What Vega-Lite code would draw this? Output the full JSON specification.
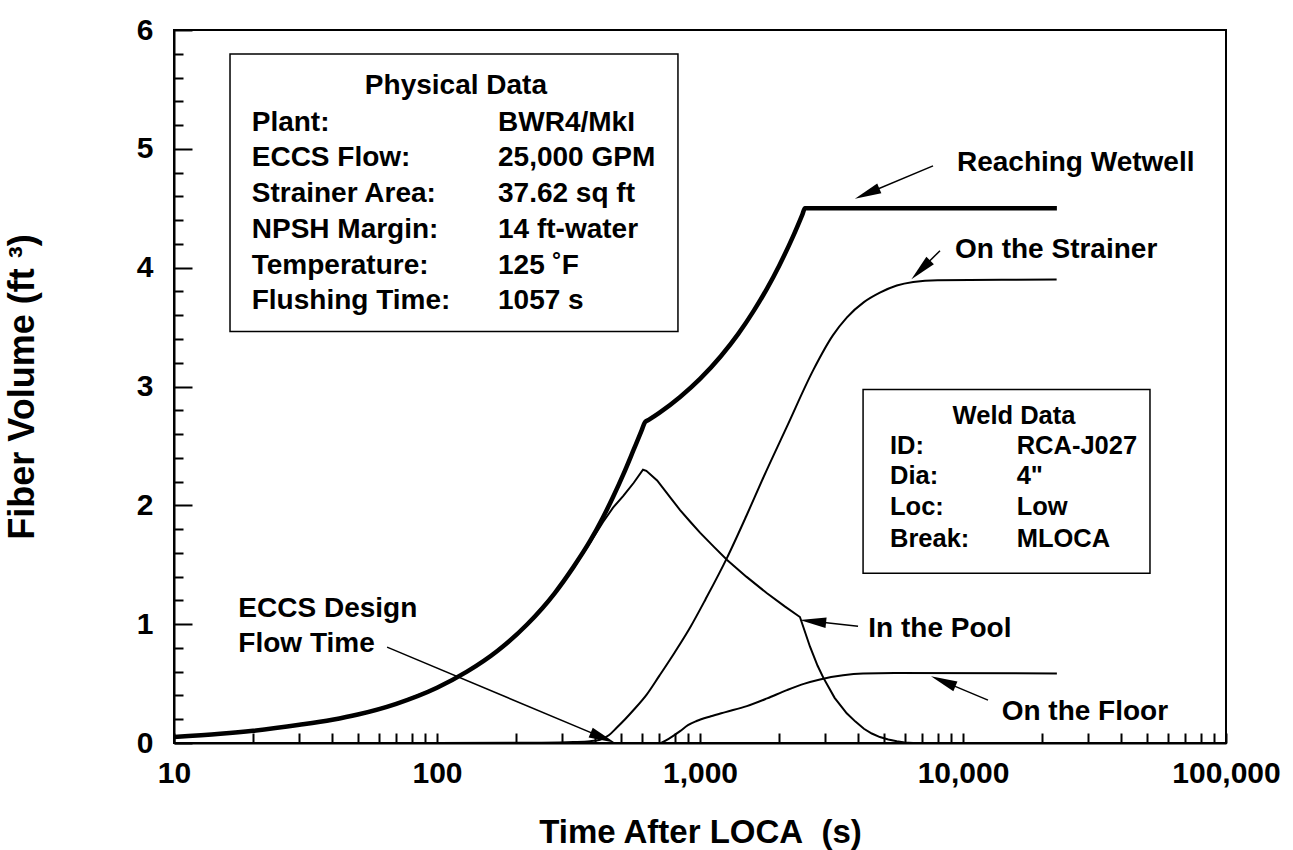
{
  "$schema": "https://vega.github.io/schema/vega-lite/v6.json",
  "width": 1052,
  "height": 713,
  "autosize": {"type": "none"},
  "padding": {"left": 174, "top": 30, "right": 67, "bottom": 107},
  "background": "white",
  "config": {
    "font": "Liberation Sans",
    "view": {"stroke": "black", "strokeWidth": 2},
    "axis": {
      "domainColor": "black", "domainWidth": 2,
      "tickColor": "black", "tickWidth": 2,
      "labelColor": "black", "titleColor": "black",
      "labelFont": "Liberation Sans", "titleFont": "Liberation Sans",
      "labelFontWeight": "bold", "titleFontWeight": "bold",
      "labelFontSize": 30, "titleFontSize": 33, "grid": false,
      "labelOverlap": false, "labelFlush": false, "labelBound": false
    }
  },
  "datasets": {
    "curves": [
      {"s": "Reaching Wetwell", "x": 10, "y": 0.05},
      {"s": "Reaching Wetwell", "x": 15, "y": 0.077},
      {"s": "Reaching Wetwell", "x": 20, "y": 0.103},
      {"s": "Reaching Wetwell", "x": 30, "y": 0.153},
      {"s": "Reaching Wetwell", "x": 40, "y": 0.196},
      {"s": "Reaching Wetwell", "x": 50, "y": 0.24},
      {"s": "Reaching Wetwell", "x": 70, "y": 0.33},
      {"s": "Reaching Wetwell", "x": 100, "y": 0.465},
      {"s": "Reaching Wetwell", "x": 130, "y": 0.60},
      {"s": "Reaching Wetwell", "x": 170, "y": 0.776},
      {"s": "Reaching Wetwell", "x": 220, "y": 0.997},
      {"s": "Reaching Wetwell", "x": 280, "y": 1.26},
      {"s": "Reaching Wetwell", "x": 330, "y": 1.48},
      {"s": "Reaching Wetwell", "x": 382, "y": 1.70},
      {"s": "Reaching Wetwell", "x": 428, "y": 1.90},
      {"s": "Reaching Wetwell", "x": 467, "y": 2.07},
      {"s": "Reaching Wetwell", "x": 511, "y": 2.26},
      {"s": "Reaching Wetwell", "x": 560, "y": 2.47},
      {"s": "Reaching Wetwell", "x": 600, "y": 2.63},
      {"s": "Reaching Wetwell", "x": 618, "y": 2.70},
      {"s": "Reaching Wetwell", "x": 640, "y": 2.721},
      {"s": "Reaching Wetwell", "x": 700, "y": 2.778},
      {"s": "Reaching Wetwell", "x": 840, "y": 2.912},
      {"s": "Reaching Wetwell", "x": 1000, "y": 3.064},
      {"s": "Reaching Wetwell", "x": 1200, "y": 3.255},
      {"s": "Reaching Wetwell", "x": 1400, "y": 3.445},
      {"s": "Reaching Wetwell", "x": 1600, "y": 3.636},
      {"s": "Reaching Wetwell", "x": 1800, "y": 3.826},
      {"s": "Reaching Wetwell", "x": 2000, "y": 4.017},
      {"s": "Reaching Wetwell", "x": 2250, "y": 4.255},
      {"s": "Reaching Wetwell", "x": 2450, "y": 4.447},
      {"s": "Reaching Wetwell", "x": 2506, "y": 4.50},
      {"s": "Reaching Wetwell", "x": 2560, "y": 4.50},
      {"s": "Reaching Wetwell", "x": 22750, "y": 4.50},

      {"s": "On the Strainer", "x": 100, "y": 0},
      {"s": "On the Strainer", "x": 250, "y": 0.003},
      {"s": "On the Strainer", "x": 330, "y": 0.008},
      {"s": "On the Strainer", "x": 382, "y": 0.015},
      {"s": "On the Strainer", "x": 417, "y": 0.028},
      {"s": "On the Strainer", "x": 450, "y": 0.065},
      {"s": "On the Strainer", "x": 483, "y": 0.13},
      {"s": "On the Strainer", "x": 519, "y": 0.20},
      {"s": "On the Strainer", "x": 560, "y": 0.28},
      {"s": "On the Strainer", "x": 628, "y": 0.41},
      {"s": "On the Strainer", "x": 700, "y": 0.565},
      {"s": "On the Strainer", "x": 800, "y": 0.76},
      {"s": "On the Strainer", "x": 916, "y": 0.97},
      {"s": "On the Strainer", "x": 1050, "y": 1.21},
      {"s": "On the Strainer", "x": 1268, "y": 1.56},
      {"s": "On the Strainer", "x": 1500, "y": 1.91},
      {"s": "On the Strainer", "x": 1738, "y": 2.23},
      {"s": "On the Strainer", "x": 2138, "y": 2.66},
      {"s": "On the Strainer", "x": 2698, "y": 3.14},
      {"s": "On the Strainer", "x": 3200, "y": 3.43},
      {"s": "On the Strainer", "x": 3614, "y": 3.58},
      {"s": "On the Strainer", "x": 4200, "y": 3.71},
      {"s": "On the Strainer", "x": 4830, "y": 3.79},
      {"s": "On the Strainer", "x": 5600, "y": 3.85},
      {"s": "On the Strainer", "x": 6470, "y": 3.88},
      {"s": "On the Strainer", "x": 8000, "y": 3.895},
      {"s": "On the Strainer", "x": 22700, "y": 3.90},

      {"s": "In the Pool", "x": 10, "y": 0.05},
      {"s": "In the Pool", "x": 15, "y": 0.077},
      {"s": "In the Pool", "x": 20, "y": 0.103},
      {"s": "In the Pool", "x": 30, "y": 0.153},
      {"s": "In the Pool", "x": 40, "y": 0.196},
      {"s": "In the Pool", "x": 50, "y": 0.24},
      {"s": "In the Pool", "x": 70, "y": 0.33},
      {"s": "In the Pool", "x": 100, "y": 0.465},
      {"s": "In the Pool", "x": 130, "y": 0.60},
      {"s": "In the Pool", "x": 170, "y": 0.776},
      {"s": "In the Pool", "x": 220, "y": 0.997},
      {"s": "In the Pool", "x": 280, "y": 1.26},
      {"s": "In the Pool", "x": 330, "y": 1.47},
      {"s": "In the Pool", "x": 382, "y": 1.685},
      {"s": "In the Pool", "x": 428, "y": 1.86},
      {"s": "In the Pool", "x": 467, "y": 1.98},
      {"s": "In the Pool", "x": 511, "y": 2.08},
      {"s": "In the Pool", "x": 560, "y": 2.19},
      {"s": "In the Pool", "x": 607, "y": 2.30},
      {"s": "In the Pool", "x": 625, "y": 2.29},
      {"s": "In the Pool", "x": 687, "y": 2.21},
      {"s": "In the Pool", "x": 769, "y": 2.07},
      {"s": "In the Pool", "x": 840, "y": 1.96},
      {"s": "In the Pool", "x": 920, "y": 1.86},
      {"s": "In the Pool", "x": 1000, "y": 1.77},
      {"s": "In the Pool", "x": 1130, "y": 1.65},
      {"s": "In the Pool", "x": 1268, "y": 1.54},
      {"s": "In the Pool", "x": 1500, "y": 1.40},
      {"s": "In the Pool", "x": 1798, "y": 1.26},
      {"s": "In the Pool", "x": 2100, "y": 1.15},
      {"s": "In the Pool", "x": 2399, "y": 1.06},
      {"s": "In the Pool", "x": 2620, "y": 0.81},
      {"s": "In the Pool", "x": 2800, "y": 0.65},
      {"s": "In the Pool", "x": 2943, "y": 0.55},
      {"s": "In the Pool", "x": 3250, "y": 0.38},
      {"s": "In the Pool", "x": 3613, "y": 0.25},
      {"s": "In the Pool", "x": 3900, "y": 0.18},
      {"s": "In the Pool", "x": 4200, "y": 0.12},
      {"s": "In the Pool", "x": 4500, "y": 0.08},
      {"s": "In the Pool", "x": 4830, "y": 0.05},
      {"s": "In the Pool", "x": 5200, "y": 0.03},
      {"s": "In the Pool", "x": 5600, "y": 0.015},
      {"s": "In the Pool", "x": 6000, "y": 0.005},
      {"s": "In the Pool", "x": 6457, "y": 0},
      {"s": "In the Pool", "x": 22750, "y": 0},

      {"s": "On the Floor", "x": 712, "y": 0},
      {"s": "On the Floor", "x": 760, "y": 0.035},
      {"s": "On the Floor", "x": 840, "y": 0.10},
      {"s": "On the Floor", "x": 900, "y": 0.15},
      {"s": "On the Floor", "x": 970, "y": 0.185},
      {"s": "On the Floor", "x": 1100, "y": 0.225},
      {"s": "On the Floor", "x": 1250, "y": 0.26},
      {"s": "On the Floor", "x": 1507, "y": 0.31},
      {"s": "On the Floor", "x": 1800, "y": 0.375},
      {"s": "On the Floor", "x": 2140, "y": 0.445},
      {"s": "On the Floor", "x": 2500, "y": 0.50},
      {"s": "On the Floor", "x": 2858, "y": 0.535},
      {"s": "On the Floor", "x": 3500, "y": 0.57},
      {"s": "On the Floor", "x": 4170, "y": 0.585},
      {"s": "On the Floor", "x": 5500, "y": 0.59},
      {"s": "On the Floor", "x": 22750, "y": 0.585}
    ],
    "boxes": [
      {"box": "Physical Data", "x": 16.33, "x2": 824.5, "y": 5.798, "y2": 3.462},
      {"box": "Weld Data", "x": 4169, "x2": 51400, "y": 2.975, "y2": 1.429}
    ],
    "arrows": [
      {"id": "wetwell", "x": 7691, "y": 4.857},
      {"id": "wetwell", "x": 4319, "y": 4.624},
      {"id": "strainer", "x": 8176, "y": 4.143},
      {"id": "strainer", "x": 6910, "y": 3.982},
      {"id": "pool", "x": 3989, "y": 0.983},
      {"id": "pool", "x": 2687, "y": 1.024},
      {"id": "floor", "x": 12445, "y": 0.361},
      {"id": "floor", "x": 8408, "y": 0.519},
      {"id": "eccs", "x": 64.6, "y": 0.807},
      {"id": "eccs", "x": 427.3, "y": 0.045}
    ],
    "heads": [
      {"id": "wetwell", "x": 4319, "y": 4.624, "a": 247},
      {"id": "strainer", "x": 6910, "y": 3.982, "a": 225},
      {"id": "pool", "x": 2687, "y": 1.024, "a": 276},
      {"id": "floor", "x": 8408, "y": 0.519, "a": 292.7},
      {"id": "eccs", "x": 427.3, "y": 0.045, "a": 112.8}
    ],
    "texts": [
      {"g": "big", "t": "Reaching Wetwell", "x": 9484, "y": 4.815},
      {"g": "big", "t": "On the Strainer", "x": 9325, "y": 4.084},
      {"g": "big", "t": "In the Pool", "x": 4365, "y": 0.891},
      {"g": "big", "t": "On the Floor", "x": 14030, "y": 0.193},
      {"g": "big", "t": "ECCS Design", "x": 17.57, "y": 1.059},
      {"g": "big", "t": "Flow Time", "x": 17.57, "y": 0.765},
      {"g": "big", "t": "Plant:", "x": 19.75, "y": 5.151},
      {"g": "big", "t": "ECCS Flow:", "x": 19.75, "y": 4.857},
      {"g": "big", "t": "Strainer Area:", "x": 19.75, "y": 4.555},
      {"g": "big", "t": "NPSH Margin:", "x": 19.75, "y": 4.252},
      {"g": "big", "t": "Temperature:", "x": 19.75, "y": 3.950},
      {"g": "big", "t": "Flushing Time:", "x": 19.75, "y": 3.655},
      {"g": "big", "t": "BWR4/MkI", "x": 170.6, "y": 5.151},
      {"g": "big", "t": "25,000 GPM", "x": 170.6, "y": 4.857},
      {"g": "big", "t": "37.62 sq ft", "x": 170.6, "y": 4.555},
      {"g": "big", "t": "14 ft-water", "x": 170.6, "y": 4.252},
      {"g": "big", "t": "125 ˚F", "x": 170.6, "y": 3.950},
      {"g": "big", "t": "1057 s", "x": 170.6, "y": 3.655},
      {"g": "bigc", "t": "Physical Data", "x": 118, "y": 5.462},
      {"g": "weldc", "t": "Weld Data", "x": 15630, "y": 2.685},
      {"g": "weld", "t": "ID:", "x": 5277, "y": 2.433},
      {"g": "weld", "t": "Dia:", "x": 5277, "y": 2.181},
      {"g": "weld", "t": "Loc:", "x": 5277, "y": 1.916},
      {"g": "weld", "t": "Break:", "x": 5277, "y": 1.651},
      {"g": "weld", "t": "RCA-J027", "x": 15996, "y": 2.433},
      {"g": "weld", "t": "4\"", "x": 15996, "y": 2.181},
      {"g": "weld", "t": "Low", "x": 15996, "y": 1.916},
      {"g": "weld", "t": "MLOCA", "x": 15996, "y": 1.651}
    ]
  },
  "encoding": {
    "x": {
      "field": "x", "type": "quantitative",
      "scale": {"type": "log", "domain": [10, 100000], "nice": false},
      "axis": {
        "title": "Time After LOCA\u00a0 (s)",
        "values": [10,20,30,40,50,60,70,80,90,100,200,300,400,500,600,700,800,900,1000,2000,3000,4000,5000,6000,7000,8000,9000,10000,20000,30000,40000,50000,60000,70000,80000,90000,100000],
        "labelExpr": "indexof([10,100,1000,10000,100000], datum.value) >= 0 ? format(datum.value, ',') : ''",
        "tickSize": -10,
        "labelPadding": 25,
        "titlePadding": 28
      }
    },
    "y": {
      "field": "y", "type": "quantitative",
      "scale": {"domain": [0, 6], "nice": false, "zero": false},
      "axis": {
        "title": "Fiber Volume (ft ³)",
        "titleFontSize": 36,
        "values": [0,0.2,0.4,0.6,0.8,1,1.2,1.4,1.6,1.8,2,2.2,2.4,2.6,2.8,3,3.2,3.4,3.6,3.8,4,4.2,4.4,4.6,4.8,5,5.2,5.4,5.6,5.8,6],
        "labelExpr": "abs(datum.value - round(datum.value)) < 0.01 ? format(datum.value, 'd') : ''",
        "tickSize": {"condition": {"test": "abs(datum.value - round(datum.value)) < 0.01", "value": -18}, "value": -9},
        "labelPadding": 39,
        "titlePadding": 95
      }
    }
  },
  "layer": [
    {
      "data": {"name": "boxes"},
      "mark": {"type": "rect", "fill": "white", "stroke": "black", "strokeWidth": 1.5},
      "encoding": {"x2": {"field": "x2"}, "y2": {"field": "y2"}}
    },
    {
      "data": {"name": "curves"},
      "transform": [{"filter": "datum.s === 'On the Strainer' || datum.s === 'On the Floor'"}],
      "mark": {"type": "line", "color": "black", "strokeWidth": 2, "interpolate": "monotone"},
      "encoding": {"detail": {"field": "s"}}
    },
    {
      "data": {"name": "curves"},
      "transform": [{"filter": "datum.s === 'In the Pool'"}],
      "mark": {"type": "line", "color": "black", "strokeWidth": 2, "interpolate": "linear"},
      "encoding": {"detail": {"field": "s"}}
    },
    {
      "data": {"name": "curves"},
      "transform": [{"filter": "datum.s === 'Reaching Wetwell'"}],
      "mark": {"type": "line", "color": "black", "strokeWidth": 4.5, "interpolate": "monotone", "strokeJoin": "miter"},
      "encoding": {"detail": {"field": "s"}}
    },
    {
      "data": {"name": "arrows"},
      "mark": {"type": "line", "color": "black", "strokeWidth": 1.5},
      "encoding": {"detail": {"field": "id"}}
    },
    {
      "data": {"name": "heads"},
      "mark": {"type": "point", "shape": "M0,-1L0.4,1L-0.4,1Z", "filled": true, "color": "black", "opacity": 1, "size": 700},
      "encoding": {"angle": {"field": "a", "type": "quantitative", "scale": null}}
    },
    {
      "data": {"name": "texts"},
      "transform": [{"filter": "datum.g === 'big'"}],
      "mark": {"type": "text", "align": "left", "baseline": "alphabetic", "fontSize": 28, "fontWeight": "bold", "font": "Liberation Sans", "color": "black"},
      "encoding": {"text": {"field": "t"}}
    },
    {
      "data": {"name": "texts"},
      "transform": [{"filter": "datum.g === 'bigc'"}],
      "mark": {"type": "text", "align": "center", "baseline": "alphabetic", "fontSize": 28, "fontWeight": "bold", "font": "Liberation Sans", "color": "black"},
      "encoding": {"text": {"field": "t"}}
    },
    {
      "data": {"name": "texts"},
      "transform": [{"filter": "datum.g === 'weld'"}],
      "mark": {"type": "text", "align": "left", "baseline": "alphabetic", "fontSize": 25.5, "fontWeight": "bold", "font": "Liberation Sans", "color": "black"},
      "encoding": {"text": {"field": "t"}}
    },
    {
      "data": {"name": "texts"},
      "transform": [{"filter": "datum.g === 'weldc'"}],
      "mark": {"type": "text", "align": "center", "baseline": "alphabetic", "fontSize": 25.5, "fontWeight": "bold", "font": "Liberation Sans", "color": "black"},
      "encoding": {"text": {"field": "t"}}
    }
  ]
}
